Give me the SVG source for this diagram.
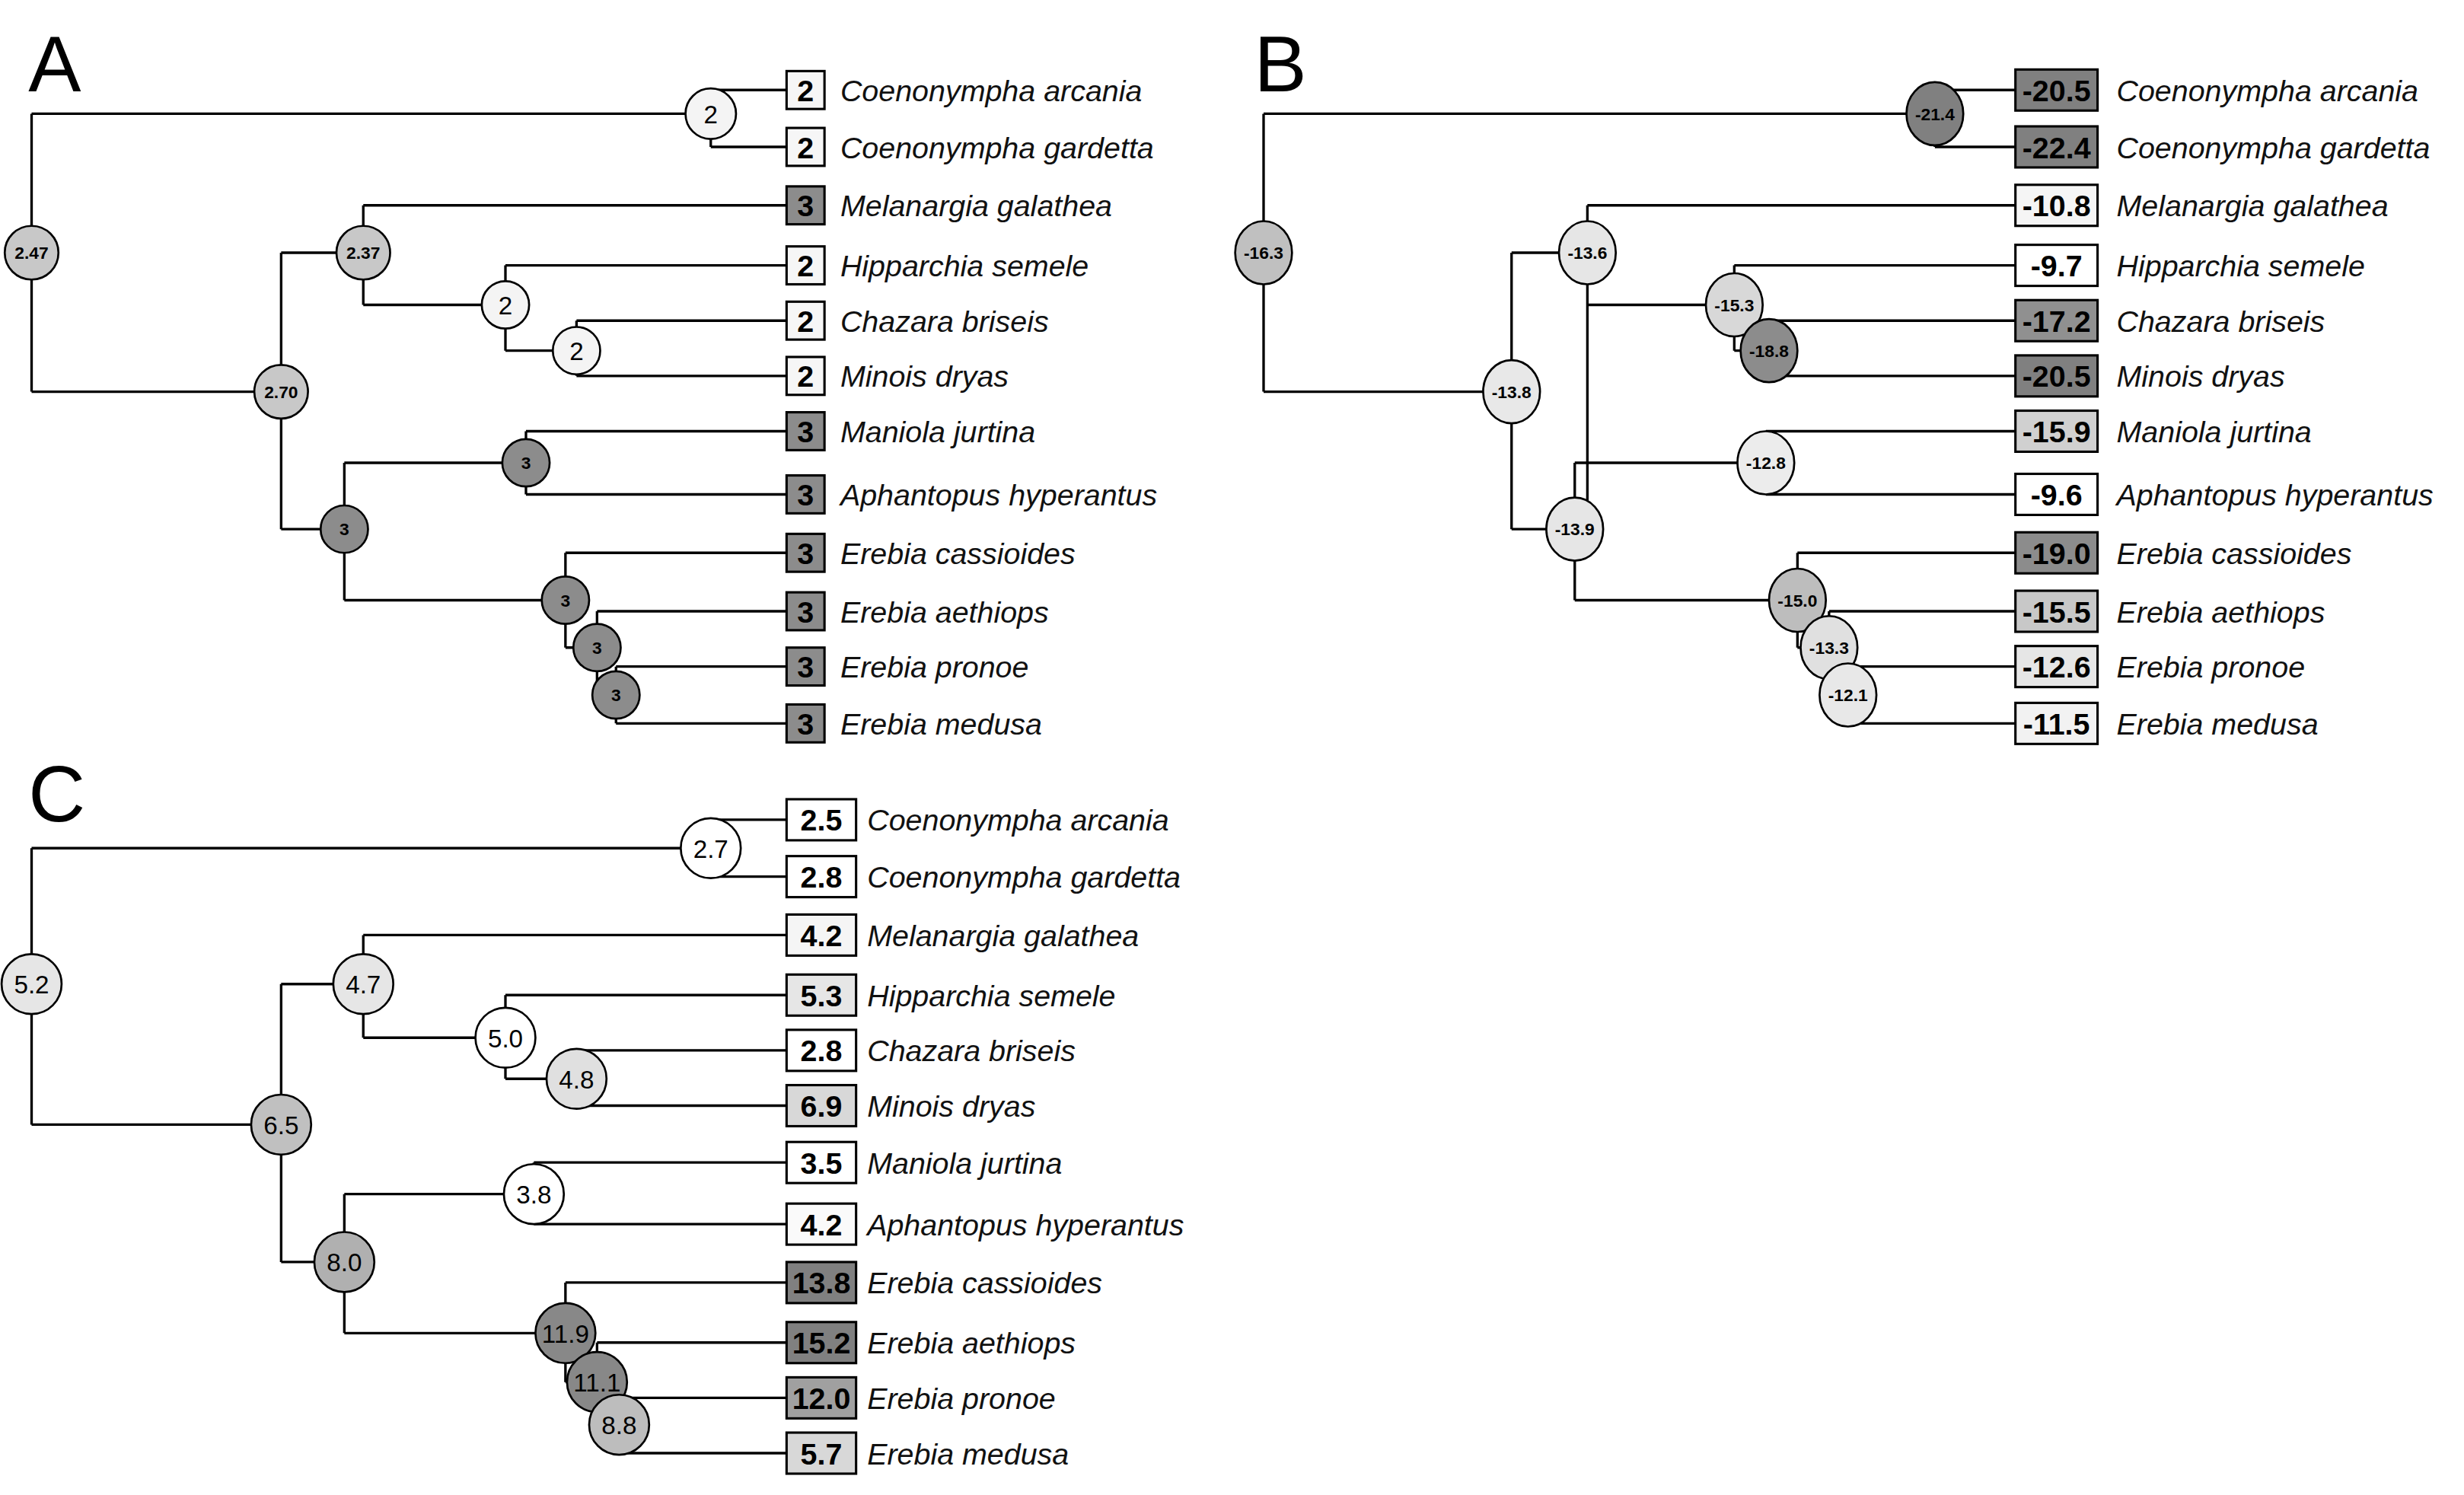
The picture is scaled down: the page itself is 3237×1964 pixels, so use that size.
<svg xmlns="http://www.w3.org/2000/svg" width="3237" height="1964" viewBox="0 0 3237 1964">
<style>
.e{fill:none;stroke:#000;stroke-width:1.6}
.n{stroke:#000;stroke-width:1.3}
.b{stroke:#000;stroke-width:1.5}
.t{font-family:"Liberation Sans",Arial,sans-serif;font-style:italic;font-size:19px;fill:#111}
.v{font-family:"Liberation Sans",Arial,sans-serif;font-weight:bold;font-size:19px;text-anchor:middle;fill:#000}
.l{font-family:"Liberation Sans",Arial,sans-serif;font-weight:bold;font-size:11px;text-anchor:middle;fill:#000}
.lc{font-family:"Liberation Sans",Arial,sans-serif;font-size:16px;text-anchor:middle;fill:#000}
.h{font-family:"Liberation Sans",Arial,sans-serif;font-size:50px;fill:#000}
</style>
<rect width="3237" height="1964" fill="#fff"/>
<g transform="scale(2.075)">
<!-- Panel A -->
<g id="panelA">
<text class="h" x="18" y="58">A</text>
<g id="edgesA">
<path class="e" d="M20 72V248M20 72H450M20 248H178M450 57V93M450 57H498M450 93H498M178 160V335M178 160H230M178 335H218M230 130V193M230 130H498M230 193H320M320 168V222M320 168H498M320 222H365M365 203V238M365 203H498M365 238H498M218 293V380M218 293H333M218 380H358M333 273V313M333 273H498M333 313H498M358 350V410M358 350H498M358 410H378M378 387V440M378 387H498M378 440H390M390 422V458M390 422H498M390 458H498"/>
</g>
<g id="nodesA">
<g id="A_root"><circle class="n" cx="20" cy="160" r="17" fill="#c8c8c8"/><text class="l" x="20" y="164">2.47</text></g>
<g id="A_coen"><circle class="n" cx="450" cy="72" r="16" fill="#f4f4f4"/><text class="lc" x="450" y="78">2</text></g>
<g id="A_n270"><circle class="n" cx="178" cy="248" r="17" fill="#c8c8c8"/><text class="l" x="178" y="252">2.70</text></g>
<g id="A_n237"><circle class="n" cx="230" cy="160" r="17" fill="#c8c8c8"/><text class="l" x="230" y="164">2.37</text></g>
<g id="A_nh"><circle class="n" cx="320" cy="193" r="15" fill="#f4f4f4"/><text class="lc" x="320" y="199">2</text></g>
<g id="A_nc"><circle class="n" cx="365" cy="222" r="15" fill="#f4f4f4"/><text class="lc" x="365" y="228">2</text></g>
<g id="A_n3"><circle class="n" cx="218" cy="335" r="15" fill="#8c8c8c"/><text class="l" x="218" y="339">3</text></g>
<g id="A_nma"><circle class="n" cx="333" cy="293" r="15" fill="#8c8c8c"/><text class="l" x="333" y="297">3</text></g>
<g id="A_ne"><circle class="n" cx="358" cy="380" r="15" fill="#8c8c8c"/><text class="l" x="358" y="384">3</text></g>
<g id="A_ne2"><circle class="n" cx="378" cy="410" r="15" fill="#8c8c8c"/><text class="l" x="378" y="414">3</text></g>
<g id="A_ne3"><circle class="n" cx="390" cy="440" r="15" fill="#8c8c8c"/><text class="l" x="390" y="444">3</text></g>
</g>
<g id="tipsA">
<g><rect class="b" x="498" y="45" width="24" height="24" fill="#f6f6f6"/><text class="v" x="510" y="64">2</text><text class="t" x="532" y="64">Coenonympha arcania</text></g>
<g><rect class="b" x="498" y="81" width="24" height="24" fill="#f6f6f6"/><text class="v" x="510" y="100">2</text><text class="t" x="532" y="100">Coenonympha gardetta</text></g>
<g><rect class="b" x="498" y="118" width="24" height="24" fill="#8c8c8c"/><text class="v" x="510" y="137">3</text><text class="t" x="532" y="137">Melanargia galathea</text></g>
<g><rect class="b" x="498" y="156" width="24" height="24" fill="#f6f6f6"/><text class="v" x="510" y="175">2</text><text class="t" x="532" y="175">Hipparchia semele</text></g>
<g><rect class="b" x="498" y="191" width="24" height="24" fill="#f6f6f6"/><text class="v" x="510" y="210">2</text><text class="t" x="532" y="210">Chazara briseis</text></g>
<g><rect class="b" x="498" y="226" width="24" height="24" fill="#f6f6f6"/><text class="v" x="510" y="245">2</text><text class="t" x="532" y="245">Minois dryas</text></g>
<g><rect class="b" x="498" y="261" width="24" height="24" fill="#8c8c8c"/><text class="v" x="510" y="280">3</text><text class="t" x="532" y="280">Maniola jurtina</text></g>
<g><rect class="b" x="498" y="301" width="24" height="24" fill="#8c8c8c"/><text class="v" x="510" y="320">3</text><text class="t" x="532" y="320">Aphantopus hyperantus</text></g>
<g><rect class="b" x="498" y="338" width="24" height="24" fill="#8c8c8c"/><text class="v" x="510" y="357">3</text><text class="t" x="532" y="357">Erebia cassioides</text></g>
<g><rect class="b" x="498" y="375" width="24" height="24" fill="#8c8c8c"/><text class="v" x="510" y="394">3</text><text class="t" x="532" y="394">Erebia aethiops</text></g>
<g><rect class="b" x="498" y="410" width="24" height="24" fill="#8c8c8c"/><text class="v" x="510" y="429">3</text><text class="t" x="532" y="429">Erebia pronoe</text></g>
<g><rect class="b" x="498" y="446" width="24" height="24" fill="#8c8c8c"/><text class="v" x="510" y="465">3</text><text class="t" x="532" y="465">Erebia medusa</text></g>
</g>
</g>
<!-- Panel B -->
<g id="panelB" transform="translate(780,0)">
<text class="h" x="14" y="58">B</text>
<g id="edgesB">
<path class="e" d="M20 72V248M20 72H445M20 248H177M445 57V93M445 57H496M445 93H496M225 160V335M177 248H177M177 160V335M177 160H225M177 335H217M225 130V193M225 130H496M225 193H318M318 168V222M318 168H496M318 222H340M340 203V238M340 203H496M340 238H496M217 293V380M217 293H338M217 380H358M338 273V313M338 273H496M338 313H496M358 350V410M358 350H496M358 410H378M378 387V440M378 387H496M378 440H390M390 422V458M390 422H496M390 458H496"/>
</g>
<g id="nodesB">
<g id="B_root"><ellipse class="n" cx="20" cy="160" rx="18" ry="20" fill="#c0c0c0"/><text class="l" x="20" y="164">-16.3</text></g>
<g id="B_coen"><ellipse class="n" cx="445" cy="72" rx="18" ry="20" fill="#808080"/><text class="l" x="445" y="76">-21.4</text></g>
<g id="B_n138"><ellipse class="n" cx="177" cy="248" rx="18" ry="20" fill="#e8e8e8"/><text class="l" x="177" y="252">-13.8</text></g>
<g id="B_n136"><ellipse class="n" cx="225" cy="160" rx="18" ry="20" fill="#e6e6e6"/><text class="l" x="225" y="164">-13.6</text></g>
<g id="B_n153"><ellipse class="n" cx="318" cy="193" rx="18" ry="20" fill="#d8d8d8"/><text class="l" x="318" y="197">-15.3</text></g>
<g id="B_n188"><ellipse class="n" cx="340" cy="222" rx="18" ry="20" fill="#8c8c8c"/><text class="l" x="340" y="226">-18.8</text></g>
<g id="B_n139"><ellipse class="n" cx="217" cy="335" rx="18" ry="20" fill="#e6e6e6"/><text class="l" x="217" y="339">-13.9</text></g>
<g id="B_n128"><ellipse class="n" cx="338" cy="293" rx="18" ry="20" fill="#ececec"/><text class="l" x="338" y="297">-12.8</text></g>
<g id="B_n150"><ellipse class="n" cx="358" cy="380" rx="18" ry="20" fill="#bdbdbd"/><text class="l" x="358" y="384">-15.0</text></g>
<g id="B_n133"><ellipse class="n" cx="378" cy="410" rx="18" ry="20" fill="#e0e0e0"/><text class="l" x="378" y="414">-13.3</text></g>
<g id="B_n121"><ellipse class="n" cx="390" cy="440" rx="18" ry="20" fill="#e8e8e8"/><text class="l" x="390" y="444">-12.1</text></g>
</g>
<g id="tipsB">
<g><rect class="b" x="496" y="44" width="52" height="26" fill="#808080"/><text class="v" x="522" y="64">-20.5</text><text class="t" x="560" y="64">Coenonympha arcania</text></g>
<g><rect class="b" x="496" y="80" width="52" height="26" fill="#808080"/><text class="v" x="522" y="100">-22.4</text><text class="t" x="560" y="100">Coenonympha gardetta</text></g>
<g><rect class="b" x="496" y="117" width="52" height="26" fill="#f5f5f5"/><text class="v" x="522" y="137">-10.8</text><text class="t" x="560" y="137">Melanargia galathea</text></g>
<g><rect class="b" x="496" y="155" width="52" height="26" fill="#ffffff"/><text class="v" x="522" y="175">-9.7</text><text class="t" x="560" y="175">Hipparchia semele</text></g>
<g><rect class="b" x="496" y="190" width="52" height="26" fill="#909090"/><text class="v" x="522" y="210">-17.2</text><text class="t" x="560" y="210">Chazara briseis</text></g>
<g><rect class="b" x="496" y="225" width="52" height="26" fill="#808080"/><text class="v" x="522" y="245">-20.5</text><text class="t" x="560" y="245">Minois dryas</text></g>
<g><rect class="b" x="496" y="260" width="52" height="26" fill="#d0d0d0"/><text class="v" x="522" y="280">-15.9</text><text class="t" x="560" y="280">Maniola jurtina</text></g>
<g><rect class="b" x="496" y="300" width="52" height="26" fill="#ffffff"/><text class="v" x="522" y="320">-9.6</text><text class="t" x="560" y="320">Aphantopus hyperantus</text></g>
<g><rect class="b" x="496" y="337" width="52" height="26" fill="#8c8c8c"/><text class="v" x="522" y="357">-19.0</text><text class="t" x="560" y="357">Erebia cassioides</text></g>
<g><rect class="b" x="496" y="374" width="52" height="26" fill="#c8c8c8"/><text class="v" x="522" y="394">-15.5</text><text class="t" x="560" y="394">Erebia aethiops</text></g>
<g><rect class="b" x="496" y="409" width="52" height="26" fill="#e6e6e6"/><text class="v" x="522" y="429">-12.6</text><text class="t" x="560" y="429">Erebia pronoe</text></g>
<g><rect class="b" x="496" y="445" width="52" height="26" fill="#f2f2f2"/><text class="v" x="522" y="465">-11.5</text><text class="t" x="560" y="465">Erebia medusa</text></g>
</g>
</g>
<!-- Panel C -->
<g id="panelC">
<text class="h" x="18" y="520">C</text>
<g id="edgesC">
<path class="e" d="M20 537V712M20 537H450M20 712H178M450 519V555M450 519H498M450 555H498M178 623V799M178 623H230M178 799H218M230 592V657M230 592H498M230 657H320M320 630V683M320 630H498M320 683H365M365 665V700M365 665H498M365 700H498M218 756V844M218 756H338M218 844H358M338 736V775M338 736H498M338 775H498M358 812V875M358 812H498M358 875H378M378 850V902M378 850H498M378 902H392M392 885V920M392 885H498M392 920H498"/>
</g>
<g id="nodesC">
<g id="C_root"><circle class="n" cx="20" cy="623" r="19" fill="#e6e6e6"/><text class="lc" x="20" y="629">5.2</text></g>
<g id="C_coen"><circle class="n" cx="450" cy="537" r="19" fill="#ffffff"/><text class="lc" x="450" y="543">2.7</text></g>
<g id="C_n65"><circle class="n" cx="178" cy="712" r="19" fill="#c0c0c0"/><text class="lc" x="178" y="718">6.5</text></g>
<g id="C_n47"><circle class="n" cx="230" cy="623" r="19" fill="#e6e6e6"/><text class="lc" x="230" y="629">4.7</text></g>
<g id="C_n50"><circle class="n" cx="320" cy="657" r="19" fill="#ffffff"/><text class="lc" x="320" y="663">5.0</text></g>
<g id="C_n48"><circle class="n" cx="365" cy="683" r="19" fill="#e0e0e0"/><text class="lc" x="365" y="689">4.8</text></g>
<g id="C_n80"><circle class="n" cx="218" cy="799" r="19" fill="#b0b0b0"/><text class="lc" x="218" y="805">8.0</text></g>
<g id="C_n38"><circle class="n" cx="338" cy="756" r="19" fill="#ffffff"/><text class="lc" x="338" y="762">3.8</text></g>
<g id="C_n119"><circle class="n" cx="358" cy="844" r="19" fill="#888888"/><text class="lc" x="358" y="850">11.9</text></g>
<g id="C_n111"><circle class="n" cx="378" cy="875" r="19" fill="#888888"/><text class="lc" x="378" y="881">11.1</text></g>
<g id="C_n88"><circle class="n" cx="392" cy="902" r="19" fill="#bdbdbd"/><text class="lc" x="392" y="908">8.8</text></g>
</g>
<g id="tipsC">
<g><rect class="b" x="498" y="506" width="44" height="26" fill="#ffffff"/><text class="v" x="520" y="526">2.5</text><text class="t" x="549" y="526">Coenonympha arcania</text></g>
<g><rect class="b" x="498" y="542" width="44" height="26" fill="#ffffff"/><text class="v" x="520" y="562">2.8</text><text class="t" x="549" y="562">Coenonympha gardetta</text></g>
<g><rect class="b" x="498" y="579" width="44" height="26" fill="#f5f5f5"/><text class="v" x="520" y="599">4.2</text><text class="t" x="549" y="599">Melanargia galathea</text></g>
<g><rect class="b" x="498" y="617" width="44" height="26" fill="#e6e6e6"/><text class="v" x="520" y="637">5.3</text><text class="t" x="549" y="637">Hipparchia semele</text></g>
<g><rect class="b" x="498" y="652" width="44" height="26" fill="#ffffff"/><text class="v" x="520" y="672">2.8</text><text class="t" x="549" y="672">Chazara briseis</text></g>
<g><rect class="b" x="498" y="687" width="44" height="26" fill="#d8d8d8"/><text class="v" x="520" y="707">6.9</text><text class="t" x="549" y="707">Minois dryas</text></g>
<g><rect class="b" x="498" y="723" width="44" height="26" fill="#ffffff"/><text class="v" x="520" y="743">3.5</text><text class="t" x="549" y="743">Maniola jurtina</text></g>
<g><rect class="b" x="498" y="762" width="44" height="26" fill="#fafafa"/><text class="v" x="520" y="782">4.2</text><text class="t" x="549" y="782">Aphantopus hyperantus</text></g>
<g><rect class="b" x="498" y="799" width="44" height="26" fill="#808080"/><text class="v" x="520" y="819">13.8</text><text class="t" x="549" y="819">Erebia cassioides</text></g>
<g><rect class="b" x="498" y="837" width="44" height="26" fill="#808080"/><text class="v" x="520" y="857">15.2</text><text class="t" x="549" y="857">Erebia aethiops</text></g>
<g><rect class="b" x="498" y="872" width="44" height="26" fill="#a0a0a0"/><text class="v" x="520" y="892">12.0</text><text class="t" x="549" y="892">Erebia pronoe</text></g>
<g><rect class="b" x="498" y="907" width="44" height="26" fill="#d8d8d8"/><text class="v" x="520" y="927">5.7</text><text class="t" x="549" y="927">Erebia medusa</text></g>
</g>
</g>
</g>
</svg>
